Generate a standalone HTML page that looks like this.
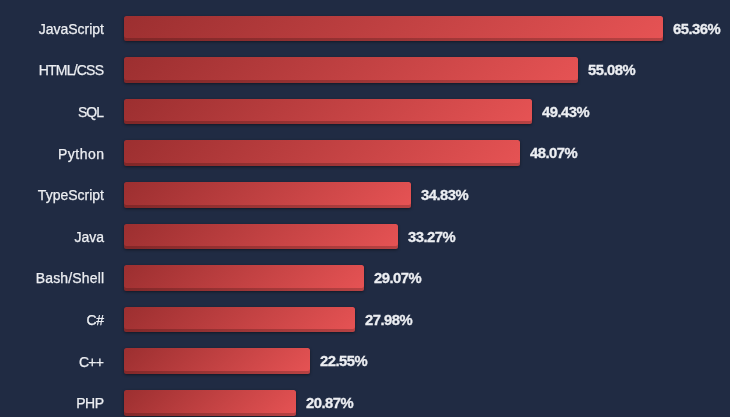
<!DOCTYPE html>
<html><head><meta charset="utf-8"><title>chart</title>
<style>
html,body{margin:0;padding:0;}
body{width:730px;height:417px;overflow:hidden;background:#202b43;font-family:"Liberation Sans",sans-serif;position:relative;}
.label{position:absolute;right:626px;height:26px;line-height:26px;font-size:14px;color:#eceef2;white-space:nowrap;text-align:right;-webkit-text-stroke:0.25px #eceef2;}
.bar{position:absolute;left:124px;border-radius:2.5px;background:linear-gradient(135deg,#9c2f30 0%,#e65354 100%);box-shadow:inset 0 -3px 0 rgba(0,0,0,0.2),0 1px 3px rgba(0,0,0,0.45);}
.val{position:absolute;height:26px;line-height:26px;font-size:14.8px;font-weight:bold;color:#eceef2;white-space:nowrap;letter-spacing:-0.5px;-webkit-text-stroke:0.3px #eceef2;}
</style></head><body>
<div class="label" style="top:16px">JavaScript</div><div class="bar" style="top:16px;height:25px;width:539px"></div><div class="val" style="top:16px;left:673px">65.36%</div>
<div class="label" style="top:57px;letter-spacing:-0.8px;right:626.8px">HTML/CSS</div><div class="bar" style="top:57px;height:26px;width:454px"></div><div class="val" style="top:57px;left:588px">55.08%</div>
<div class="label" style="top:99px;letter-spacing:-1.0px;right:627.0px">SQL</div><div class="bar" style="top:99px;height:25px;width:408px"></div><div class="val" style="top:99px;left:542px">49.43%</div>
<div class="label" style="top:141px;letter-spacing:0.5px;right:625.5px">Python</div><div class="bar" style="top:140px;height:26px;width:396px"></div><div class="val" style="top:140px;left:530px">48.07%</div>
<div class="label" style="top:182px">TypeScript</div><div class="bar" style="top:182px;height:26px;width:287px"></div><div class="val" style="top:182px;left:421px">34.83%</div>
<div class="label" style="top:224px">Java</div><div class="bar" style="top:224px;height:25px;width:274px"></div><div class="val" style="top:224px;left:408px">33.27%</div>
<div class="label" style="top:265px;letter-spacing:0.15px;right:625.85px">Bash/Shell</div><div class="bar" style="top:265px;height:26px;width:240px"></div><div class="val" style="top:265px;left:374px">29.07%</div>
<div class="label" style="top:307px;letter-spacing:-0.5px;right:626.5px">C#</div><div class="bar" style="top:307px;height:25px;width:231px"></div><div class="val" style="top:307px;left:365px">27.98%</div>
<div class="label" style="top:349px;letter-spacing:-0.7px;right:626.7px">C++</div><div class="bar" style="top:348px;height:26px;width:186px"></div><div class="val" style="top:348px;left:320px">22.55%</div>
<div class="label" style="top:390px;letter-spacing:-0.5px;right:626.5px">PHP</div><div class="bar" style="top:390px;height:26px;width:172px"></div><div class="val" style="top:390px;left:306px">20.87%</div>
</body></html>
